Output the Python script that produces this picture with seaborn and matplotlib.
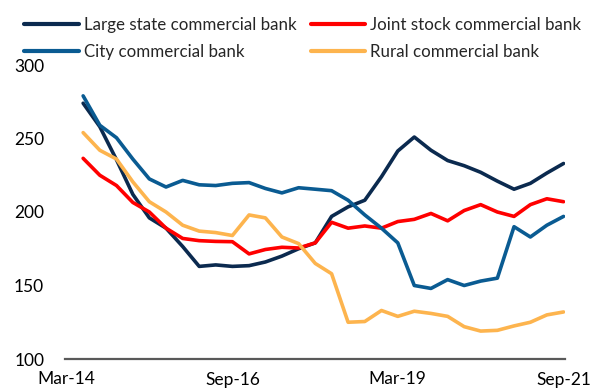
import pandas as pd
import numpy as np
import matplotlib
matplotlib.use("Agg")
import matplotlib.pyplot as plt
import matplotlib.dates as mdates
import seaborn as sns

# quarterly readings, Jun-14 .. Sep-21
quarters = pd.date_range("2014-06-30", "2021-09-30", freq="QE")

large_state = [274, 258, 235.5, 212, 196, 189, 176.5, 163, 164, 163,
               163.5, 166, 170, 175, 179, 197, 203.5, 208, 224, 241.5,
               251, 242, 235, 231.5, 227, 221, 215.5, 219.5, 226.5, 233]
joint_stock = [236.5, 225, 218, 206.5, 200, 189, 182, 180.5, 180, 179.8,
               171.5, 174.5, 176, 175.5, 179, 193, 189, 190.5, 189, 193.5,
               195, 199, 194, 201, 205, 200, 197, 205, 209, 207]
city = [279, 259, 250.5, 236, 222.5, 217, 221.5, 218.5, 218, 219.5,
        220, 216, 213, 216.5, 215.5, 214.5, 208, 198, 189, 179,
        150, 148, 154, 150, 153, 155, 190, 183, 191, 197]
rural = [254, 242, 236, 220.5, 207, 200, 191, 187, 186, 184,
         198, 196, 183, 178.5, 165, 158, 125, 125.5, 133, 129,
         132.5, 131, 129, 122, 119, 119.5, 122.5, 125, 130, 132]

series_names = ["Large state commercial bank", "Joint stock commercial bank",
                "City commercial bank", "Rural commercial bank"]
colors = ["#0b2a4f", "#ff0000", "#0a5b92", "#fdb44e"]
tick_dates = pd.to_datetime(["2014-03-31", "2016-09-30", "2019-03-31", "2021-09-30"])

df = pd.DataFrame({"date": quarters,
                   series_names[0]: large_state,
                   series_names[1]: joint_stock,
                   series_names[2]: city,
                   series_names[3]: rural})
long = df.melt(id_vars="date", var_name="bank", value_name="value")

sns.set_style("white")
plt.rcParams["font.family"] = ["Lato", "DejaVu Sans"]

fig = plt.figure(figsize=(5.94, 3.92), dpi=100)
ax = fig.add_axes([65 / 594, 1 - 359 / 392, 500 / 594, 294 / 392])

sns.lineplot(data=long, x="date", y="value", hue="bank", hue_order=series_names,
             palette=colors, linewidth=2.6, ax=ax, legend=False)
for ln in ax.lines:
    ln.set_solid_joinstyle("round")
    ln.set_solid_capstyle("round")

ax.set_ylim(100, 300)
ax.set_yticks([100, 150, 200, 250, 300])
ax.set_xlim(pd.Timestamp("2014-03-22"), pd.Timestamp("2021-10-08"))
ax.set_xticks(tick_dates)
ax.xaxis.set_major_formatter(mdates.DateFormatter("%b-%y"))
ax.set_xlabel("")
ax.set_ylabel("")
ax.tick_params(axis="both", length=0, labelsize=12.5, colors="black")
ax.tick_params(axis="y", pad=15)
ax.tick_params(axis="x", pad=9)

for side in ["top", "right", "left"]:
    ax.spines[side].set_visible(False)
ax.spines["bottom"].set_color("#595959")
ax.spines["bottom"].set_linewidth(1.6)
ax.spines["bottom"].set_zorder(0)

# legend fills column-wise: Large/City left, Joint/Rural right
order = [0, 2, 1, 3]
handles = [plt.Line2D([], [], color=colors[i], linewidth=3) for i in order]
labels = [series_names[i] for i in order]
fig.legend(handles, labels, ncol=2, loc="upper left",
           bbox_to_anchor=(0.024, 0.982), frameon=False, fontsize=12.2,
           handlelength=3.2, handletextpad=0.3, columnspacing=0.85,
           labelspacing=0.62, borderaxespad=0.2)

fig.savefig("out.png", dpi=100)
